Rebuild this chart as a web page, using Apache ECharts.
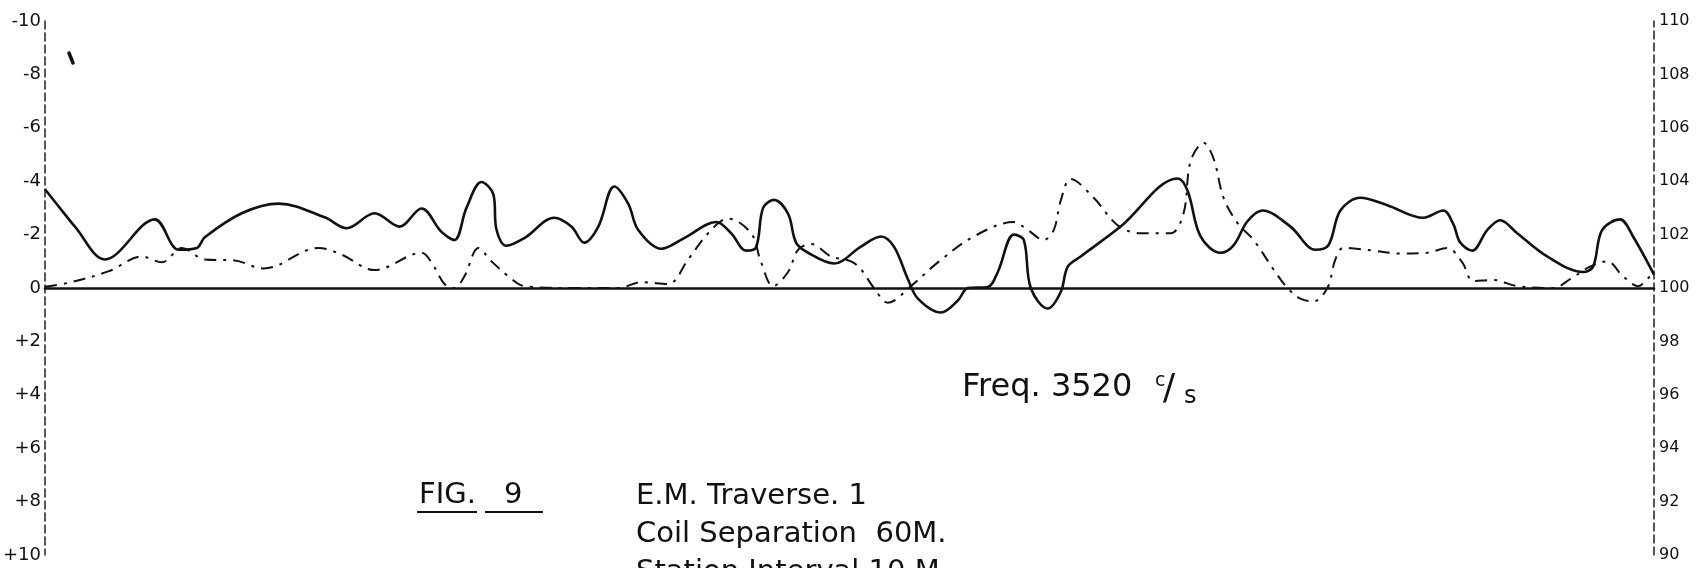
<!DOCTYPE html>
<html>
<head>
<meta charset="utf-8">
<script src="https://cdn.jsdelivr.net/npm/echarts@6/dist/echarts.min.js"></script>
<style>
html,body{margin:0;padding:0;background:#fff;}
#c{width:1701px;height:568px;}
</style>
</head>
<body>
<div id="c"></div>
<script>
// Distance along traverse (arbitrary horizontal units) and readings (left scale, negative plotted upward)
var solidX = [0,17,30,60,110,134,152,160,197,234,280,302,330,355,377,397,410,422,437,449,452,462,480,510,527,540,554,570,584,594,617,640,672,687,702,712,719,730,744,752,764,790,817,837,850,864,874,897,914,924,944,954,970,980,987,1004,1017,1024,1037,1077,1134,1144,1157,1177,1190,1204,1219,1247,1272,1285,1297,1317,1344,1380,1400,1410,1417,1429,1444,1457,1474,1504,1540,1550,1559,1577,1590,1611];
var solidY = [-3.7,-2.9,-2.3,-1.07,-2.57,-1.43,-1.5,-1.9,-2.8,-3.16,-2.65,-2.24,-2.8,-2.3,-2.98,-2.1,-1.8,-3.0,-3.97,-3.5,-2.2,-1.58,-1.87,-2.63,-2.3,-1.7,-2.3,-3.8,-3.15,-2.17,-1.47,-1.87,-2.47,-2.05,-1.4,-1.53,-3.0,-3.3,-2.78,-1.7,-1.32,-0.92,-1.55,-1.93,-1.55,-0.33,0.4,0.92,0.47,0,-0.04,-0.6,-2.0,-1.8,0,0.77,0.15,-0.8,-1.18,-2.3,-4.1,-3.64,-1.93,-1.32,-1.6,-2.5,-2.9,-2.3,-1.43,-1.6,-2.9,-3.38,-3.1,-2.63,-2.9,-2.4,-1.7,-1.4,-2.17,-2.54,-2.05,-1.18,-0.6,-0.8,-2.17,-2.57,-1.93,-0.5];

var dashX = [0,24,64,97,117,137,160,190,219,274,297,330,377,387,400,410,420,434,447,464,480,530,574,597,624,644,664,684,707,717,729,744,754,767,787,807,817,830,844,867,894,930,970,984,1000,1010,1017,1027,1050,1074,1097,1127,1140,1147,1160,1170,1180,1194,1210,1230,1244,1257,1270,1284,1292,1300,1330,1357,1384,1404,1419,1430,1450,1474,1510,1527,1547,1564,1580,1595,1607,1611];
var dashY = [-0.05,-0.2,-0.63,-1.18,-0.96,-1.5,-1.07,-1.03,-0.73,-1.5,-1.25,-0.67,-1.32,-0.96,-0.15,0,-0.44,-1.5,-1.0,-0.44,-0.07,0,0,-0.22,-0.15,-1.07,-2.05,-2.6,-2.05,-0.96,-0.07,-0.6,-1.43,-1.65,-1.18,-1.0,-0.7,0,0.55,-0.07,-0.96,-1.93,-2.47,-2.17,-1.8,-2.17,-3.27,-4.08,-3.38,-2.35,-2.05,-2.05,-2.8,-4.74,-5.44,-4.85,-3.38,-2.43,-1.8,-0.7,0,0.4,0.5,0,-1.07,-1.5,-1.4,-1.29,-1.32,-1.5,-0.96,-0.26,-0.3,-0.07,0,-0.33,-0.8,-1.0,-0.44,-0.07,-0.44,-0.63];

var leftTicks = ['-10','-8','-6','-4','-2','0','+2','+4','+6','+8','+10'];
var rightTicks = ['90','92','94','96','98','100','102','104','106','108','110'];

function pairs(xs, ys){ return xs.map(function(x,i){ return [x, ys[i]]; }); }

var FONT = '"DejaVu Sans", "Noto Sans", sans-serif';
var TF = '400 29px ' + FONT;
var chart = echarts.init(document.getElementById('c'));
chart.setOption({
  backgroundColor: '#ffffff',
  animation: false,
  grid: {left: 43, right: 47, top: 21, bottom: 13},
  xAxis: {
    type: 'value', min: 0, max: 1611,
    axisLine: {show: true, onZero: true, lineStyle: {color: '#111', width: 2.5}},
    axisTick: {show: false}, axisLabel: {show: false}, splitLine: {show: false}
  },
  yAxis: [{
    type: 'value', inverse: true, min: -10, max: 10, interval: 2, position: 'left',
    axisLine: {show: true, lineStyle: {color: '#222', width: 1.5, type: [8, 4]}},
    axisTick: {show: false}, splitLine: {show: false},
    axisLabel: {color: '#111', fontSize: 18, fontFamily: FONT, margin: 4,
      formatter: function(v){ return leftTicks[Math.round((v + 10) / 2)]; }}
  }, {
    type: 'value', min: 90, max: 110, interval: 2, position: 'right',
    axisLine: {show: true, lineStyle: {color: '#222', width: 1.5, type: [8, 4]}},
    axisTick: {show: false}, splitLine: {show: false},
    axisLabel: {color: '#111', fontSize: 16, fontFamily: FONT, margin: 5,
      formatter: function(v){ return rightTicks[Math.round((v - 90) / 2)]; }}
  }],
  series: [{
    type: 'line', name: 'solid', yAxisIndex: 0, data: pairs(solidX, solidY),
    smooth: 0.35, symbol: 'none',
    lineStyle: {color: '#111', width: 2.6}
  }, {
    type: 'line', name: 'dashdot', yAxisIndex: 0, data: pairs(dashX, dashY),
    smooth: 0.35, symbol: 'none',
    lineStyle: {color: '#111', width: 2, type: [12, 7, 3, 7]}
  }],
  graphic: [
    {type: 'line', shape: {x1: 69, y1: 53, x2: 73, y2: 63}, style: {stroke: '#111', lineWidth: 3.5, lineCap: 'round'}},
    {type: 'text', left: 962, top: 372, style: {text: 'Freq. 3520', font: '400 32px ' + FONT, fill: '#111'}},
    {type: 'text', left: 1155, top: 372, style: {text: 'c', font: '400 19px ' + FONT, fill: '#111'}},
    {type: 'text', left: 1163, top: 372, style: {text: '/', font: '400 36px ' + FONT, fill: '#111'}},
    {type: 'text', left: 1184, top: 385, style: {text: 's', font: '400 24px ' + FONT, fill: '#111'}},
    {type: 'text', left: 419, top: 481, style: {text: 'FIG.', font: TF, fill: '#111'}},
    {type: 'text', left: 504, top: 481, style: {text: '9', font: TF, fill: '#111'}},
    {type: 'line', shape: {x1: 417, y1: 512, x2: 477, y2: 512}, style: {stroke: '#111', lineWidth: 2}},
    {type: 'line', shape: {x1: 485, y1: 512, x2: 543, y2: 512}, style: {stroke: '#111', lineWidth: 2}},
    {type: 'text', left: 636, top: 482, style: {text: 'E.M. Traverse. 1', font: TF, fill: '#111'}},
    {type: 'text', left: 636, top: 520, style: {text: 'Coil Separation  60M.', font: TF, fill: '#111'}},
    {type: 'text', left: 636, top: 558, style: {text: 'Station Interval 10 M.', font: TF, fill: '#111'}}
  ]
});
</script>
</body>
</html>
